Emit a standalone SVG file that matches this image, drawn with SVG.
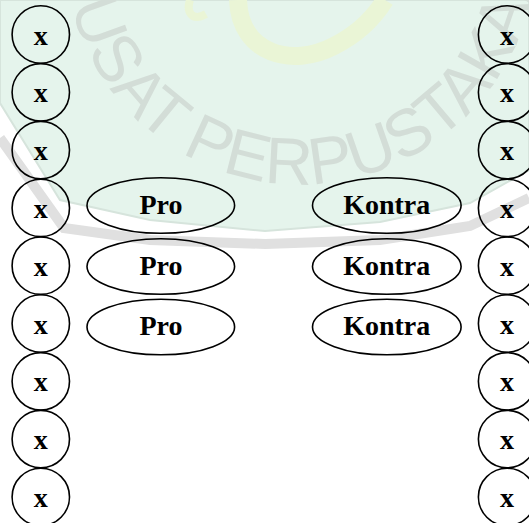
<svg xmlns="http://www.w3.org/2000/svg" width="529" height="523" viewBox="0 0 529 523">
  <style>
    .c { fill: none; stroke: #000; stroke-width: 1.6; }
    .e { fill: none; stroke: #000; stroke-width: 1.6; }
    .t { font-family: "Liberation Serif", "Times New Roman", serif; font-weight: bold; font-size: 28px; fill: #000; text-anchor: middle; }
    .wm { font-family: "Liberation Sans", Arial, sans-serif; font-size: 66px; fill: #d3ddd7; }
  </style>
  <defs>
    <path id="arc" d="M81,-139.7 A236,236 0 1 0 519,-139.7"/>
  </defs>
  <rect width="529" height="523" fill="#ffffff"/>
  <g id="watermark">
    <path d="M0,0 L0,103 L60,200 L150,220 L265,231 L380,222 L470,203 L529,170 L529,0 Z" fill="#e5f4ec" stroke="#d6e4dc" stroke-width="2"/>
    <path d="M0,138 L64,228 L150,240 L265,244 L380,240 L470,226 L529,198" fill="none" stroke="#e0e0e0" stroke-width="10"/>
    <path d="M238,0 C240,54 292,68 334,46 C358,34 375,16 385,0" fill="none" stroke="#eaf5d6" stroke-width="18"/>
    <path d="M190,0 C186,12 192,22 206,14" fill="none" stroke="#eaf5d6" stroke-width="8"/>
    <text class="wm"><textPath href="#arc" startOffset="104">PUSAT PERPUSTAKAAN</textPath></text>
  </g>
  <g id="left-column">
    <g id="L1"><circle class="c" cx="40.8" cy="34.5" r="28.7"/><text class="t" x="40.8" y="44.5">x</text></g>
    <g id="L2"><circle class="c" cx="40.8" cy="92.3" r="28.7"/><text class="t" x="40.8" y="102.3">x</text></g>
    <g id="L3"><circle class="c" cx="40.8" cy="150.1" r="28.7"/><text class="t" x="40.8" y="160.1">x</text></g>
    <g id="L4"><circle class="c" cx="40.8" cy="207.9" r="28.7"/><text class="t" x="40.8" y="217.9">x</text></g>
    <g id="L5"><circle class="c" cx="40.8" cy="265.7" r="28.7"/><text class="t" x="40.8" y="275.7">x</text></g>
    <g id="L6"><circle class="c" cx="40.8" cy="323.5" r="28.7"/><text class="t" x="40.8" y="333.5">x</text></g>
    <g id="L7"><circle class="c" cx="40.8" cy="381.3" r="28.7"/><text class="t" x="40.8" y="391.3">x</text></g>
    <g id="L8"><circle class="c" cx="40.8" cy="439.1" r="28.7"/><text class="t" x="40.8" y="449.1">x</text></g>
    <g id="L9"><circle class="c" cx="40.8" cy="496.9" r="28.7"/><text class="t" x="40.8" y="506.9">x</text></g>
  </g>
  <g id="right-column">
    <g id="R1"><circle class="c" cx="507.1" cy="34.5" r="28.7"/><text class="t" x="507.1" y="44.5">x</text></g>
    <g id="R2"><circle class="c" cx="507.1" cy="92.3" r="28.7"/><text class="t" x="507.1" y="102.3">x</text></g>
    <g id="R3"><circle class="c" cx="507.1" cy="150.1" r="28.7"/><text class="t" x="507.1" y="160.1">x</text></g>
    <g id="R4"><circle class="c" cx="507.1" cy="207.9" r="28.7"/><text class="t" x="507.1" y="217.9">x</text></g>
    <g id="R5"><circle class="c" cx="507.1" cy="265.7" r="28.7"/><text class="t" x="507.1" y="275.7">x</text></g>
    <g id="R6"><circle class="c" cx="507.1" cy="323.5" r="28.7"/><text class="t" x="507.1" y="333.5">x</text></g>
    <g id="R7"><circle class="c" cx="507.1" cy="381.3" r="28.7"/><text class="t" x="507.1" y="391.3">x</text></g>
    <g id="R8"><circle class="c" cx="507.1" cy="439.1" r="28.7"/><text class="t" x="507.1" y="449.1">x</text></g>
    <g id="R9"><circle class="c" cx="507.1" cy="496.9" r="28.7"/><text class="t" x="507.1" y="506.9">x</text></g>
  </g>
  <g id="pro-column">
    <g id="Pro1"><ellipse class="e" cx="160.8" cy="205.5" rx="73.8" ry="27.8"/><text class="t" x="161" y="213.5">Pro</text></g>
    <g id="Pro2"><ellipse class="e" cx="160.8" cy="266.5" rx="73.8" ry="27.8"/><text class="t" x="161" y="274.5">Pro</text></g>
    <g id="Pro3"><ellipse class="e" cx="160.8" cy="327" rx="73.8" ry="27.8"/><text class="t" x="161" y="335">Pro</text></g>
  </g>
  <g id="kontra-column">
    <g id="Kontra1"><ellipse class="e" cx="386.8" cy="205.5" rx="74.3" ry="27.8"/><text class="t" x="386.7" y="213.5">Kontra</text></g>
    <g id="Kontra2"><ellipse class="e" cx="386.8" cy="266.5" rx="74.3" ry="27.8"/><text class="t" x="386.7" y="274.5">Kontra</text></g>
    <g id="Kontra3"><ellipse class="e" cx="386.8" cy="327" rx="74.3" ry="27.8"/><text class="t" x="386.7" y="335">Kontra</text></g>
  </g>
  <g id="connectors"/>
</svg>
